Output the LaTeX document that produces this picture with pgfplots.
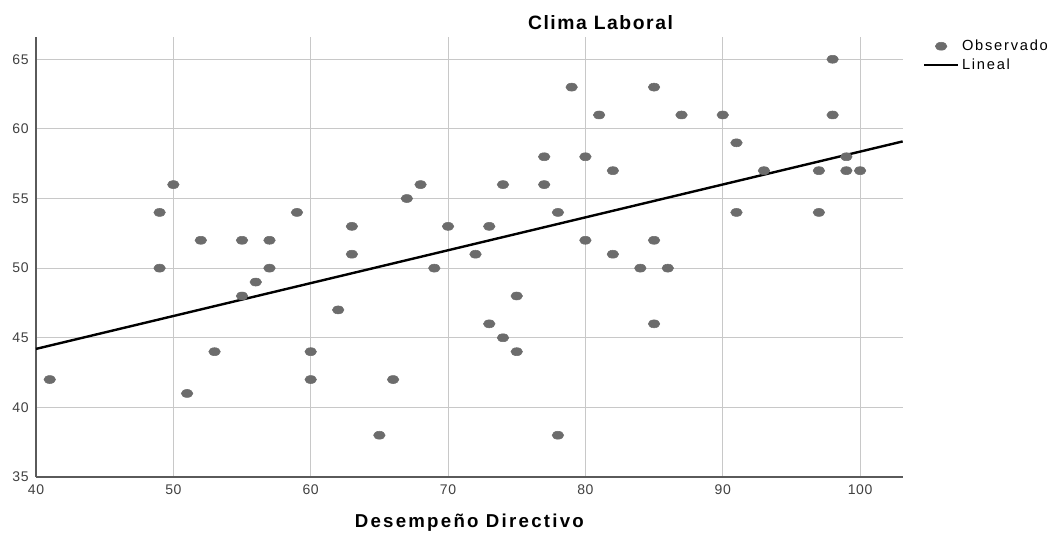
\documentclass[border=0pt]{standalone}
\usepackage{fontspec}
\setmainfont{Liberation Sans}
\usepackage{pgfplots}
\pgfplotsset{compat=1.18}

\definecolor{dotgray}{RGB}{108,108,108}
\definecolor{gridgray}{RGB}{200,200,200}
\definecolor{axisgray}{RGB}{90,90,90}

\begin{document}
\begin{tikzpicture}
% page size: 1052x533 px at 0.75pt per px
\useasboundingbox (-27pt,-42pt) rectangle (762pt,357.75pt);
\begin{axis}[
    name=ax,
    scale only axis,
    width=650pt, height=330pt,
    xmin=40, xmax=103.1,
    ymin=35, ymax=66.6,
    xtick={40,50,...,100},
    ytick={35,40,...,65},
    axis x line*=bottom,
    axis y line*=left,
    axis line style={axisgray, line width=1.1pt, -},
    major tick length=0pt,
    grid=major,
    major grid style={gridgray, line width=0.8pt},
    tick label style={font=\fontsize{10.5}{12}\selectfont\addfontfeature{LetterSpace=4}, black!75},
    xticklabel style={yshift=-2pt},
    yticklabel style={xshift=-2pt},
    /pgf/number format/assume math mode=true,
    clip=false,
    legend style={at={(1.023,1.0)}, anchor=north west, draw=none, fill=none,
        font=\fontsize{11}{11}\selectfont\addfontfeature{LetterSpace=12},
        row sep=0.5pt, inner sep=0pt},
    legend cell align=left,
    legend image code/.code={\draw[mark repeat=2,mark phase=2,#1]
        plot coordinates {(0cm,0cm) (0.45cm,0cm) (0.9cm,0cm)};},
]
% observed points
\addplot[dotgray, only marks, mark=*, mark size=3pt, mark options={xscale=1.45, draw=dotgray, fill=dotgray}]
coordinates {
(41,42) (49,54) (49,50) (50,56) (51,41) (52,52) (53,44) (55,52) (55,48)
(56,49) (57,52) (57,50) (59,54) (60,44) (60,42) (62,47) (63,53) (63,51)
(65,38) (66,42) (67,55) (68,56) (69,50) (70,53) (72,51) (73,53) (73,46)
(74,56) (74,45) (75,48) (75,44) (77,58) (77,56) (78,54) (78,38) (79,63)
(80,58) (80,52) (81,61) (82,57) (82,51) (84,50) (85,63) (85,52) (85,46)
(86,50) (87,61) (90,61) (91,59) (91,54) (93,57) (97,57) (97,54) (98,65)
(98,61) (99,58) (99,57) (100,57)
};
\addlegendentry{Observado}
% linear fit
\addplot[black, line width=1.8pt, no marks] coordinates {(40,44.2) (103.1,59.1)};
\addlegendentry{Lineal}

\node[font=\fontsize{14.5}{16}\selectfont\bfseries\addfontfeature{LetterSpace=8}]
    at (axis cs:81.1,67.66) {Clima Laboral};
\node[font=\fontsize{14}{16}\selectfont\bfseries\addfontfeature{LetterSpace=12}, yshift=-34.5pt]
    at (rel axis cs:0.5,0) {Desempeño Directivo};
\end{axis}
\end{tikzpicture}
\end{document}
